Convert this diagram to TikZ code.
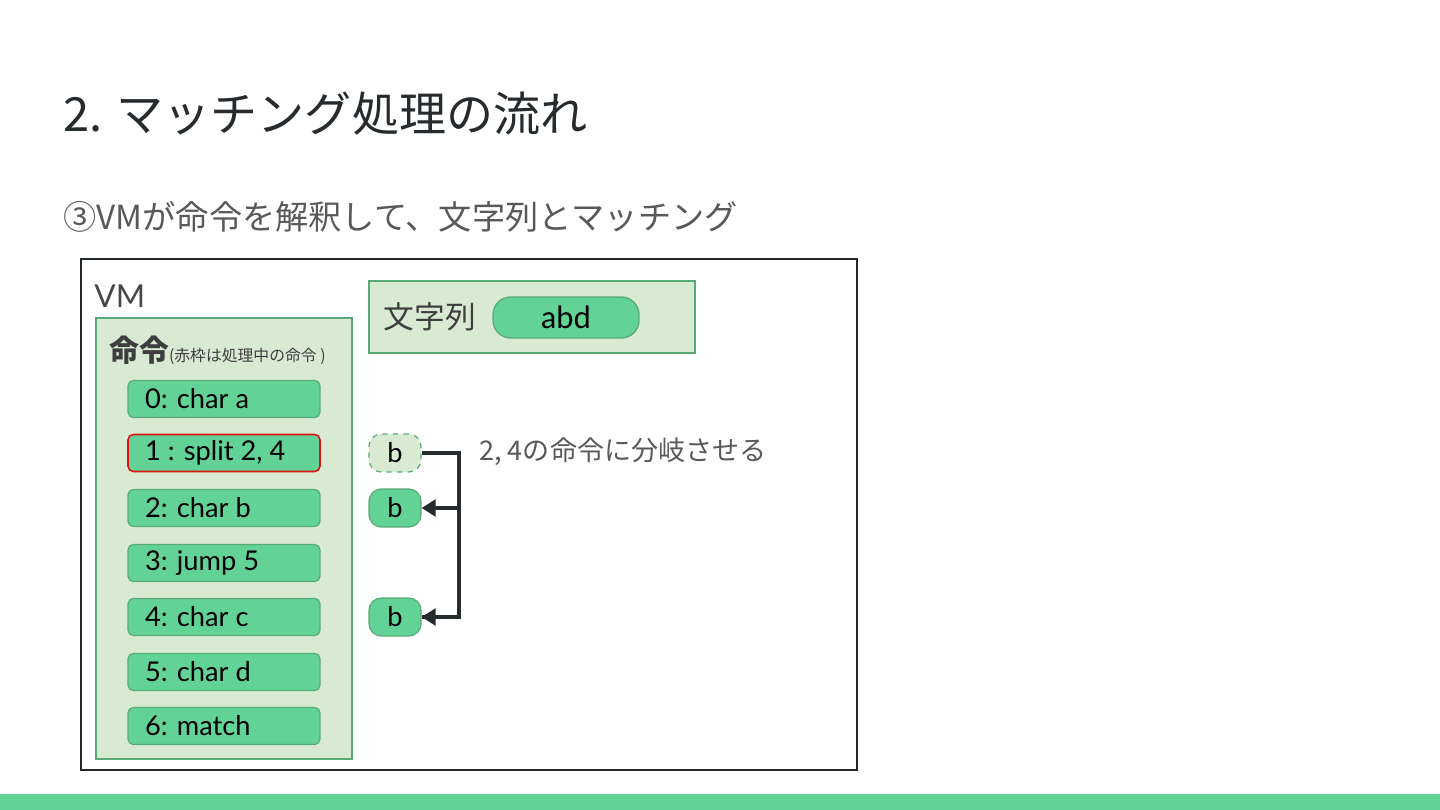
\documentclass[tikz,border=0pt]{standalone}
\usepackage{fontspec}
\setmainfont{Lato}
\newfontfamily\jp{Noto Sans CJK JP}
\usetikzlibrary{arrows.meta}
\pgfdeclarelayer{edgelayer}
\pgfdeclarelayer{nodelayer}
\pgfsetlayers{edgelayer,nodelayer,main}
\definecolor{slidegreen}{RGB}{99,210,151}
\definecolor{palegreen}{RGB}{217,234,211}
\definecolor{edgegreen}{RGB}{88,170,118}
\definecolor{inkdark}{RGB}{38,43,46}
\definecolor{inkgrey}{RGB}{89,89,89}
\definecolor{redline}{RGB}{220,20,20}
\tikzstyle{none}=[inner sep=0pt]
\tikzstyle{instr}=[rounded corners=3pt, draw=edgegreen, line width=0.7pt, fill=slidegreen, minimum width=3.84cm, minimum height=0.74cm, inner xsep=0.34cm, text width=3.16cm, align=flush left, font=\fontsize{15.5}{18}\selectfont, text=black]
\tikzstyle{chr}=[rounded corners=7pt, draw=edgegreen, line width=0.7pt, fill=slidegreen, minimum width=1.04cm, minimum height=0.76cm, font=\fontsize{15.5}{18}\selectfont, text=black]
\tikzstyle{panel}=[draw=edgegreen, line width=0.8pt, fill=palegreen]
\tikzstyle{branch}=[draw=inkdark, line width=2pt]
\begin{document}
\begin{tikzpicture}[x=0.02cm, y=-0.02cm]
	\useasboundingbox (0, 0) rectangle (1440, 810);
	\begin{pgfonlayer}{nodelayer}
		\node [style=none, anchor=west, text=inkdark, font=\jp\fontsize{26.8}{32}\selectfont] (title) at (63, 114) {2. マッチング処理の流れ};
		\node [style=none, anchor=west, text=inkgrey, font=\jp\fontsize{18.9}{22}\selectfont] (subtitle) at (63, 217) {③VMが命令を解釈して、文字列とマッチング};
		\node [style=none, anchor=west, text=inkgrey!80!black, font=\fontsize{18}{21}\selectfont] (vmlabel) at (94, 296) {VM};
		\node [style=none, anchor=base west, text=inkgrey!70!black] (cmdlabel) at (109, 362) {\jp\fontsize{17}{20}\selectfont\bfseries 命令\mdseries\fontsize{9}{10}\selectfont(赤枠は処理中の命令 )};
		\node [style=none, text=inkgrey!70!black, font=\jp\fontsize{17.5}{20}\selectfont] (strlabel) at (430, 317) {文字列};
		\node [draw=edgegreen, line width=0.7pt, fill=slidegreen, rounded corners=10pt, minimum width=2.92cm, minimum height=0.82cm, font=\fontsize{17.5}{20}\selectfont] (input) at (566, 317.5) {abd};
		\node [instr] (i0) at (224, 399) {0: char a};
		\node [instr, draw=redline, line width=0.9pt] (i1) at (224, 453) {1 : split 2, 4};
		\node [instr] (i2) at (224, 508) {2: char b};
		\node [instr] (i3) at (224, 563) {3: jump 5};
		\node [instr] (i4) at (224, 617) {4: char c};
		\node [instr] (i5) at (224, 672) {5: char d};
		\node [instr] (i6) at (224, 726) {6: match};
		\node [chr, fill=palegreen, dashed] (b1) at (395, 453) {b};
		\node [chr] (b2) at (395, 508) {b};
		\node [chr] (b4) at (395, 617) {b};
		\node [style=none, anchor=west, text=inkgrey, font=\jp\fontsize{15.4}{18}\selectfont] (note) at (479, 452) {2, 4の命令に分岐させる};
		\coordinate (fork) at (459, 453);
	\end{pgfonlayer}
	\begin{pgfonlayer}{edgelayer}
		\fill [white] (0, 0) rectangle (1440, 810);
		\fill [slidegreen] (0, 794) rectangle (1440, 810);
		\draw [draw=inkdark!90!black, line width=0.9pt, fill=white] (81, 259) rectangle (857, 770);
		\draw [panel] (96, 318) rectangle (352, 759);
		\draw [panel] (369, 281) rectangle (695, 353);
	\end{pgfonlayer}
	\draw [branch] (b1.east) -- (fork) |- (b4.east);
	\draw [branch, -{Triangle[length=8pt, width=9.5pt]}] (fork |- b4.east) -- (b4.east);
	\draw [branch, -{Triangle[length=8pt, width=9.5pt]}] (fork |- b2.east) -- (b2.east);
\end{tikzpicture}
\end{document}
